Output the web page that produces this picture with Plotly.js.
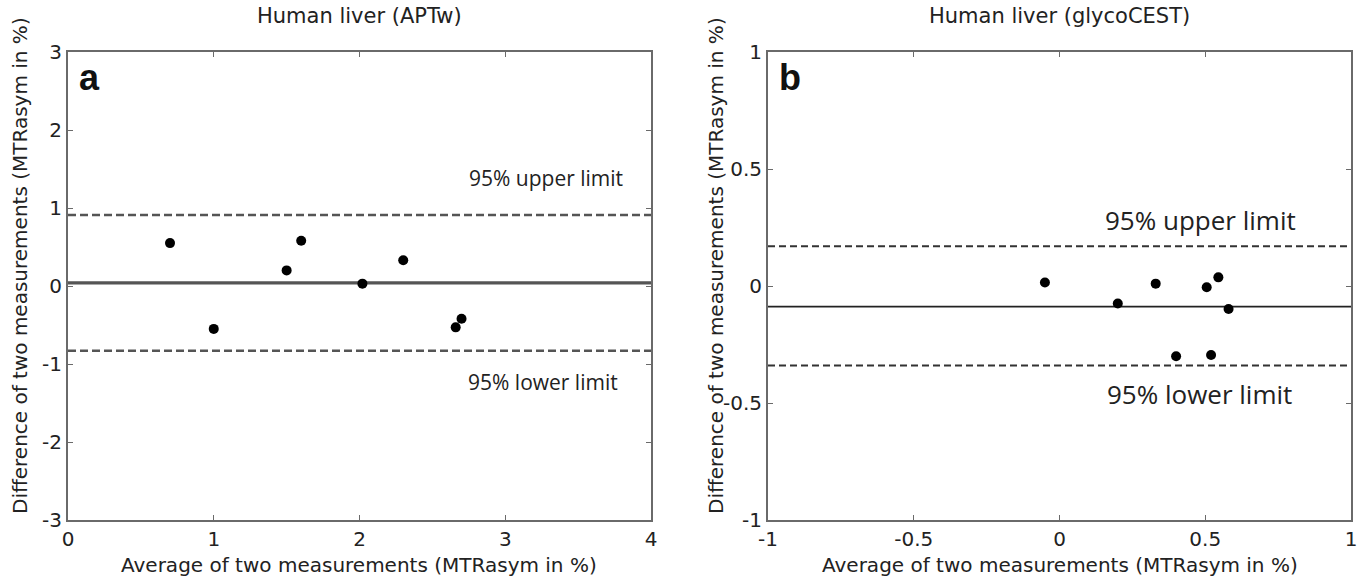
<!DOCTYPE html>
<html>
<head>
<meta charset="utf-8">
<script src="https://cdn.plot.ly/plotly-3.0.1.min.js"></script>
<style>html,body{margin:0;padding:0;background:#fff;}#chart{width:1368px;height:582px;}</style>
</head>
<body>
<div id="chart"></div>
<script>
// Panel a: Human liver (APTw)
const aptwAverage = [0.70, 1.00, 1.50, 1.60, 2.02, 2.30, 2.66, 2.70];
const aptwDifference = [0.55, -0.55, 0.20, 0.58, 0.03, 0.33, -0.53, -0.42];
const aptwMean = 0.04;
const aptwUpper = 0.91;
const aptwLower = -0.83;
const aptwXRange = [0, 4];
const aptwYRange = [-3, 3];
const aptwXTicks = [0, 1, 2, 3, 4];
const aptwYTicks = [-3, -2, -1, 0, 1, 2, 3];

// Panel b: Human liver (glycoCEST)
const glycoAverage = [-0.05, 0.20, 0.33, 0.40, 0.505, 0.52, 0.545, 0.58];
const glycoDifference = [0.015, -0.075, 0.01, -0.30, -0.005, -0.295, 0.037, -0.098];
const glycoMean = -0.088;
const glycoUpper = 0.17;
const glycoLower = -0.34;
const glycoXRange = [-1, 1];
const glycoYRange = [-1, 1];
const glycoXTicks = [-1, -0.5, 0, 0.5, 1];
const glycoYTicks = [-1, -0.5, 0, 0.5, 1];

const panelTitles = ['Human liver (APTw)', 'Human liver (glycoCEST)'];
const panelLetters = ['a', 'b'];
const xTitle = 'Average of two measurements (MTRasym in %)';
const yTitle = 'Difference of two measurements (MTRasym in %)';
const upperLabel = '95% upper limit';
const lowerLabel = '95% lower limit';

const W = 1368, H = 582;
const matFont = 'DejaVu Sans, Liberation Sans, Arial, sans-serif';
const axisFont = {family: matFont, size: 20, color: '#222'};
const frameColor = '#6a6a6a';

function hline(xr, y, xa, ya, dash, width, color) {
  return {x: xr, y: [y, y], xaxis: xa, yaxis: ya, mode: 'lines', showlegend: false, hoverinfo: 'skip',
    line: {color: color, width: width, dash: dash}};
}

const traces = [
  hline(aptwXRange, aptwUpper, 'x', 'y', '8px,4px', 2.5, '#555'),
  hline(aptwXRange, aptwLower, 'x', 'y', '8px,4px', 2.5, '#555'),
  hline(aptwXRange, aptwMean, 'x', 'y', 'solid', 3.2, '#555'),
  {x: aptwAverage, y: aptwDifference, xaxis: 'x', yaxis: 'y', mode: 'markers', showlegend: false,
   marker: {color: '#000', size: 10}},
  hline(glycoXRange, glycoUpper, 'x2', 'y2', '7px,4px', 2, '#333'),
  hline(glycoXRange, glycoLower, 'x2', 'y2', '7px,4px', 2, '#333'),
  hline(glycoXRange, glycoMean, 'x2', 'y2', 'solid', 1.6, '#222'),
  {x: glycoAverage, y: glycoDifference, xaxis: 'x2', yaxis: 'y2', mode: 'markers', showlegend: false,
   marker: {color: '#000', size: 10}}
];

function axis(range, ticks, domain, anchor) {
  return {range: range, tickvals: ticks, ticktext: ticks.map(String), domain: domain, anchor: anchor,
    showgrid: false, zeroline: false, showline: true, mirror: 'ticks', linecolor: frameColor, linewidth: 2,
    ticks: 'inside', ticklen: 5, tickcolor: frameColor, tickwidth: 1, tickfont: axisFont, automargin: false};
}

const leftX = [68 / W, 651 / W];
const rightX = [768 / W, 1351 / W];
const yDom = [1 - 520 / H, 1 - 52 / H];

const labelFontA = {family: 'Open Sans, Noto Sans, sans-serif', size: 21, color: '#222'};
const labelFontB = {family: 'Open Sans, Noto Sans, sans-serif', size: 26, color: '#222'};
const titleFont = {family: matFont, size: 21, color: '#222'};
const axTitleFont = {family: matFont, size: 20, color: '#222'};
const letterFont = {family: 'Liberation Sans, Arial, sans-serif', size: 36, color: '#111'};

function note(text, x, y, font, extra) {
  return Object.assign({text: text, xref: 'paper', yref: 'paper', x: x, y: y, xanchor: 'center', yanchor: 'middle',
    showarrow: false, font: font}, extra || {});
}

const annotations = [
  note(panelTitles[0], (leftX[0] + leftX[1]) / 2, 1 - 16 / H, titleFont),
  note(panelTitles[1], (rightX[0] + rightX[1]) / 2, 1 - 16 / H, titleFont),
  note('<b>' + panelLetters[0] + '</b>', 77 / W, 1 - 78 / H, letterFont, {xanchor: 'left'}),
  note('<b>' + panelLetters[1] + '</b>', 777 / W, 1 - 78 / H, letterFont, {xanchor: 'left'}),
  {text: upperLabel, xref: 'x', yref: 'y', x: 3.28, y: 1.38, xanchor: 'center', yanchor: 'middle', showarrow: false, font: labelFontA},
  {text: lowerLabel, xref: 'x', yref: 'y', x: 3.26, y: -1.23, xanchor: 'center', yanchor: 'middle', showarrow: false, font: labelFontA},
  {text: upperLabel, xref: 'x2', yref: 'y2', x: 0.485, y: 0.28, xanchor: 'center', yanchor: 'middle', showarrow: false, font: labelFontB},
  {text: lowerLabel, xref: 'x2', yref: 'y2', x: 0.48, y: -0.46, xanchor: 'center', yanchor: 'middle', showarrow: false, font: labelFontB},
  note(xTitle, (leftX[0] + leftX[1]) / 2, 1 - 565 / H, axTitleFont),
  note(xTitle, (rightX[0] + rightX[1]) / 2, 1 - 565 / H, axTitleFont),
  note(yTitle, 20 / W, 1 - 266 / H, axTitleFont, {textangle: -90}),
  note(yTitle, 716 / W, 1 - 266 / H, axTitleFont, {textangle: -90})
];

const layout = {
  width: W, height: H, margin: {l: 0, r: 0, t: 0, b: 0},
  paper_bgcolor: '#fff', plot_bgcolor: '#fff', showlegend: false,
  xaxis: axis(aptwXRange, aptwXTicks, leftX, 'y'),
  yaxis: axis(aptwYRange, aptwYTicks, yDom, 'x'),
  xaxis2: axis(glycoXRange, glycoXTicks, rightX, 'y2'),
  yaxis2: axis(glycoYRange, glycoYTicks, yDom, 'x2'),
  annotations: annotations
};

Plotly.newPlot('chart', traces, layout, {displayModeBar: false, staticPlot: true});
</script>
</body>
</html>
